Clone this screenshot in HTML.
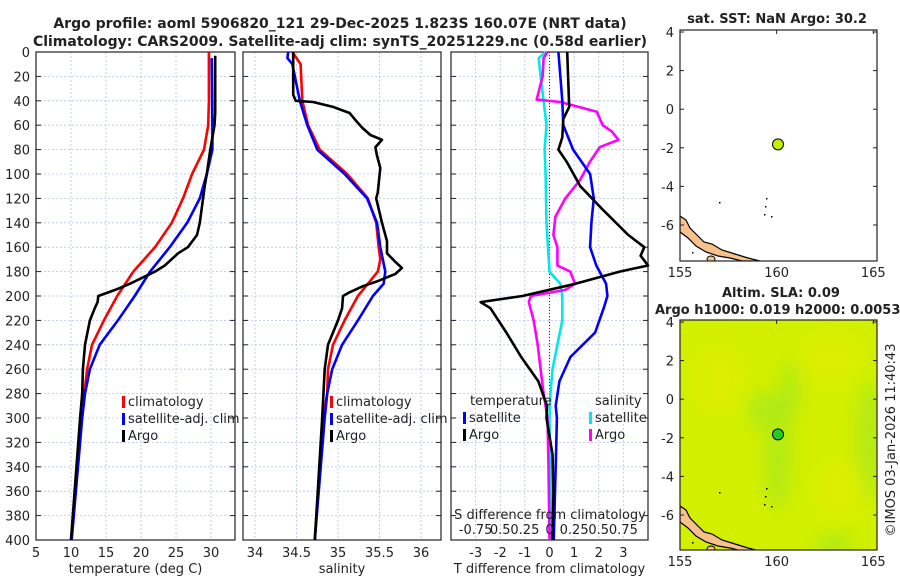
<!DOCTYPE html>
<html><head><meta charset="utf-8"><style>
body{margin:0;background:#fff;width:900px;height:580px;overflow:hidden}
svg text{font-family:"DejaVu Sans","Liberation Sans",sans-serif;fill:#222}
</style></head><body>
<svg id="c" width="900" height="580" xmlns="http://www.w3.org/2000/svg">
<defs>
<filter id="blur"><feGaussianBlur stdDeviation="8"/></filter>
<clipPath id="m2clip"><rect x="680" y="320" width="197" height="230"/></clipPath>
<clipPath id="m1clip"><rect x="680" y="30" width="197" height="231"/></clipPath>
</defs>
<text x="340" y="28" text-anchor="middle" font-size="14" font-weight="bold">Argo profile: aoml 5906820_121 29-Dec-2025 1.823S 160.07E (NRT data)</text>
<text x="340" y="46" text-anchor="middle" font-size="14" font-weight="bold">Climatology: CARS2009. Satellite-adj clim: synTS_20251229.nc (0.58d earlier)</text>
<g id="g"></g>
</svg>
<script>
// ---------- data ----------
const depthTicks=[0,20,40,60,80,100,120,140,160,180,200,220,240,260,280,300,320,340,360,380,400];
const tempTicks=[5,10,15,20,25,30];
const salTicks=[34,34.5,35,35.5,36];
const tdiffTicks=[-3,-2,-1,0,1,2,3];
const sdiffTickLabels=["-0.75","0.5","0.25","0","0.25","0.5","0.75"];
const sdiffTickVals=[-0.75,-0.5,-0.25,0,0.25,0.5,0.75];
// temperature profiles
const tClimDepth=[0,40,60,80,100,120,140,160,180,200,220,240,260,280,300,400];
const tClimVal=[29.7,29.7,29.6,29.0,27.3,26.0,24.4,22.0,18.9,16.6,14.7,13.0,12.3,11.9,11.4,10.0];
const tSatDepth=[5,60,80,100,120,140,160,180,200,220,240,260,280,300,400];
const tSatVal=[30.1,30.2,30.2,29.4,28.4,26.6,24.1,21.3,19.1,16.7,14.1,12.7,12.0,11.6,10.1];
const tArgoDepth=[3,50,60,80,100,110,140,150,160,165,175,180,190,195,200,205,210,220,240,260,280,300,400];
const tArgoVal=[30.6,30.6,30.5,29.9,29.4,29.1,28.4,28.0,26.7,25.3,23.4,22.0,18.4,16.3,13.9,13.8,13.4,12.7,12.0,11.7,11.6,11.3,10.0];
// salinity profiles
const sClimDepth=[0,10,40,60,80,100,120,140,160,170,180,190,200,220,240,260,280,300,400];
const sClimVal=[34.45,34.55,34.57,34.64,34.78,35.11,35.36,35.46,35.49,35.51,35.48,35.36,35.24,35.08,34.94,34.88,34.87,34.82,34.72];
const sSatDepth=[0,5,10,40,60,80,100,120,140,160,180,190,200,220,240,260,280,300,400];
const sSatVal=[34.40,34.39,34.45,34.54,34.63,34.75,35.08,35.35,35.47,35.51,35.57,35.55,35.42,35.24,35.05,34.93,34.87,34.84,34.72];
const sArgoDepth=[0,35,40,41,45,50,55,62,68,72,78,85,95,115,120,140,155,165,172,177,182,188,192,197,200,210,220,240,260,300,400];
const sArgoVal=[34.46,34.46,34.49,34.70,34.94,35.14,35.20,35.29,35.39,35.53,35.45,35.47,35.51,35.48,35.46,35.53,35.59,35.59,35.69,35.77,35.69,35.47,35.30,35.14,35.06,35.05,35.00,34.88,34.84,34.81,34.72];
// difference panel
const dTSatDepth=[0,40,60,80,100,120,140,160,175,190,200,210,230,250,270,290,300,340,400];
const dTSatVal=[0.36,0.52,0.56,0.96,1.65,1.8,1.7,1.65,1.9,2.3,2.35,2.2,1.85,0.85,0.4,0.25,0.3,0.25,0.17];
const dTArgoDepth=[0,45,55,70,80,90,110,130,150,160,167,175,180,190,200,205,210,230,250,270,290,300,330,360,400];
const dTArgoVal=[0.72,0.8,0.56,0.52,0.36,0.7,1.25,2.2,3.2,3.85,3.7,4.0,2.85,1.05,-1.1,-2.8,-2.4,-1.75,-1.15,-0.45,-0.1,-0.12,0.12,0.16,0.12];
const dSSatDepth=[0,5,20,40,60,80,100,140,180,190,200,220,240,260,280,300,400];
const dSSatVal=[-0.04,-0.11,-0.09,-0.06,-0.03,-0.05,-0.04,-0.03,0,0.11,0.13,0.13,0.08,0.03,0.01,0,0.02];
const dSArgoDepth=[0,5,20,39,41,49,60,65,72,78,90,105,120,135,150,160,175,180,190,195,200,205,220,240,260,280,300,340,400];
const dSArgoVal=[-0.02,-0.06,-0.07,-0.13,0.11,0.48,0.54,0.63,0.7,0.51,0.41,0.31,0.16,0.06,0.04,0.08,0.08,0.21,0.26,0.16,-0.19,-0.21,-0.16,-0.12,-0.09,-0.06,-0.02,-0.01,0];
// maps
const lonTicks=[155,160,165];
const latTicks=[4,2,0,-2,-4,-6];
const floatLon=[160.07], floatLat=[-1.823];

// ---------- helpers ----------
const NS="http://www.w3.org/2000/svg";
const G=document.getElementById('g');
function el(t,a,p){const e=document.createElementNS(NS,t);for(const k in a)e.setAttribute(k,a[k]);(p||G).appendChild(e);return e;}
const Y0=52,Y1=540;
function yD(d){return Y0+(Y1-Y0)*d/400;}
function panel(x0,x1,vmin,vmax,ticks,labels,name,xlabel){
  const sx=v=>x0+(x1-x0)*(v-vmin)/(vmax-vmin);
  const grp=el('g',{});
  
  
  ticks.forEach(t=>{const l=el('line',{x1:sx(t),x2:sx(t),y1:Y0,y2:Y1,stroke:'#b8c4e8','stroke-width':0.8,'stroke-dasharray':'2,2'},grp);
    });
  depthTicks.forEach(d=>{const l=el('line',{x1:x0,x2:x1,y1:yD(d),y2:yD(d),stroke:'#b8c4e8','stroke-width':0.8,'stroke-dasharray':'2,2'},grp);
    
    el('line',{x1:x0,x2:x0+5,y1:yD(d),y2:yD(d),stroke:'#222'},grp);el('line',{x1:x1-5,x2:x1,y1:yD(d),y2:yD(d),stroke:'#222'},grp);});
  const r=el('rect',{x:x0,y:Y0,width:x1-x0,height:Y1-Y0,fill:'none',stroke:'#222','stroke-width':1.2},grp);
  
  ticks.forEach((t,i)=>{const tx=el('text',{x:sx(t),y:557,'text-anchor':'middle','font-size':13},grp);tx.textContent=labels[i];
    });
  const xl=el('text',{x:(x0+x1)/2,y:573,'text-anchor':'middle','font-size':13},grp);xl.textContent=xlabel;
  
  return sx;
}
function line(sx,ds,vs,color,name,w){
  const pts=ds.map((d,i)=>sx(vs[i]).toFixed(1)+','+yD(d).toFixed(1)).join(' ');
  const p=el('polyline',{points:pts,fill:'none',stroke:color,'stroke-width':w||2.6,'stroke-linejoin':'round'});
  
  
}
function legend(x,y,color,label,name){
  const r=el('rect',{x:x,y:y-10,width:3,height:12,fill:color});
  
  const t=el('text',{x:x+6,y:y,'font-size':13});t.textContent=label;
  
}
depthTicks.forEach(d=>{const t=el('text',{x:30,y:yD(d)+5,'text-anchor':'end','font-size':13});t.textContent=d;
  });

const sxT=panel(36,235,5,5+199/7,tempTicks,tempTicks.map(String),'temperature-panel','temperature (deg C)');
line(sxT,tClimDepth,tClimVal,'#ff0000','temp-climatology-line');
line(sxT,tSatDepth,tSatVal,'#0000ff','temp-satellite-line');
line(sxT,tArgoDepth,tArgoVal,'#000','temp-argo-line');
legend(122,406,'#ff0000','climatology','legend-climatology');
legend(122,423,'#0000ff','satellite-adj. clim','legend-satellite');
legend(122,440,'#000','Argo','legend-argo');

const sxS=panel(243,441,34+(243-255)/83,34+(441-255)/83,salTicks,salTicks.map(String),'salinity-panel','salinity');
line(sxS,sClimDepth,sClimVal,'#ff0000','sal-climatology-line');
line(sxS,sSatDepth,sSatVal,'#0000ff','sal-satellite-line');
line(sxS,sArgoDepth,sArgoVal,'#000','sal-argo-line');
legend(330,406,'#ff0000','climatology','legend-sal-climatology');
legend(330,423,'#0000ff','satellite-adj. clim','legend-sal-satellite');
legend(330,440,'#000','Argo','legend-sal-argo');

const sxD=panel(451,648,-4,4,tdiffTicks,tdiffTicks.map(String),'difference-panel','T difference from climatology');
const zl=el('line',{x1:sxD(0),x2:sxD(0),y1:Y0,y2:Y1,stroke:'#333','stroke-width':1,'stroke-dasharray':'1,2'});

const sxDS=v=>sxD(v*4);
line(sxDS,dSSatDepth,dSSatVal,'#00e8e8','sal-diff-satellite-line');
line(sxDS,dSArgoDepth,dSArgoVal,'#ff00ff','sal-diff-argo-line');
line(sxD,dTSatDepth,dTSatVal,'#0000ff','temp-diff-satellite-line');
line(sxD,dTArgoDepth,dTArgoVal,'#000','temp-diff-argo-line');
const tl1=el('text',{x:470,y:405,'font-size':13});tl1.textContent='temperature';

const tl2=el('text',{x:595,y:405,'font-size':13});tl2.textContent='salinity';

legend(463,422,'#0000ff','satellite','legend-diff-t-satellite');
legend(463,439,'#000','Argo','legend-diff-t-argo');
legend(589,422,'#00e8e8','satellite','legend-diff-s-satellite');
legend(589,439,'#ff00ff','Argo','legend-diff-s-argo');
const st=el('text',{x:550,y:519,'text-anchor':'middle','font-size':13});st.textContent='S difference from climatology';

sdiffTickVals.forEach((v,i)=>{const t=el('text',{x:sxDS(v),y:534,'text-anchor':'middle','font-size':13});t.textContent=sdiffTickLabels[i];
  });

function map(y0,name,bg,dotColor,clip){
  const x0=680,w=197,h=(y0<100?231:230);
  const lx=v=>x0+(v-155)*19.33, ly=v=>y0+2+(4-v)*19.3;
  const g=el('g',{});
  
  const bgR=el('rect',{x:x0,y:y0,width:w,height:h,fill:bg},g);
  
  if(bg!=='#fff'){
    const gg=el('g',{'clip-path':'url(#'+clip+')',filter:'url(#blur)'},g);
    [[778,y0+130,14,60],[760,y0+90,12,20],[790,y0+70,10,30],[870,y0+120,14,60],[835,y0+225,20,12]].forEach(e=>el('ellipse',{cx:e[0],cy:e[1],rx:e[2],ry:e[3],fill:'#a8e81a',opacity:0.7},gg));
    [[720,y0+60,25,35],[830,y0+40,30,25],[840,y0+170,25,30]].forEach(e=>el('ellipse',{cx:e[0],cy:e[1],rx:e[2],ry:e[3],fill:'#e4ee00',opacity:0.6},gg));
  }
  const land=el('path',{d:`M680 ${y0+186} L686 ${y0+190} L690 ${y0+198} L697 ${y0+205} L704 ${y0+212} L712 ${y0+214} L722 ${y0+220} L735 ${y0+224} L748 ${y0+228} L760 ${y0+231} L742 ${y0+231} L730 ${y0+228} L718 ${y0+226} L706 ${y0+222} L696 ${y0+216} L688 ${y0+208} L680 ${y0+202} Z`,fill:'#f8c08a',stroke:'#000','stroke-width':1.2,'clip-path':'url(#'+clip+')'},g);
  
  const isl=el('ellipse',{cx:711,cy:y0+229,rx:4,ry:3,fill:'#f8c08a',stroke:'#000','stroke-width':1,'clip-path':'url(#'+clip+')'},g);
  
  el('rect',{x:x0,y:y0,width:w,height:h,fill:'none',stroke:'#222','stroke-width':1.2},g);
  [[719,y0+172],[766,y0+168],[765,y0+176],[764,y0+184],[771,y0+186],[692,y0+222]].forEach(p=>el('rect',{x:p[0],y:p[1],width:1.5,height:1.5,fill:'#000'},g));
  lonTicks.forEach(v=>{const t=el('text',{x:lx(v),y:y0+h+16,'text-anchor':'middle','font-size':13},g);t.textContent=v;
    
    el('line',{x1:lx(v),x2:lx(v),y1:y0,y2:y0+4,stroke:'#222'},g);});
  latTicks.forEach(v=>{const t=el('text',{x:674,y:ly(v)+5,'text-anchor':'end','font-size':13},g);t.textContent=v;
    
    el('line',{x1:x0,x2:x0+4,y1:ly(v),y2:ly(v),stroke:'#222'},g);el('line',{x1:x0+w-4,x2:x0+w,y1:ly(v),y2:ly(v),stroke:'#222'},g);});
  floatLon.forEach((lo,i)=>{const c=el('circle',{cx:lx(lo),cy:ly(floatLat[i]),r:5.5,fill:dotColor,stroke:'#000','stroke-width':1},g);
    });
}
map(30,'sst-map','#fff','#c0f000','m1clip');
map(320,'sla-map','#d2ef00','#22cc22','m2clip');
[['sat. SST: NaN Argo: 30.2',777,23,'sst-map-title'],['Altim. SLA: 0.09',722,297,'sla-map-title'],['Argo h1000: 0.019 h2000: 0.0053',655,314,'sla-map-subtitle']].forEach(a=>{
  const t=el('text',{x:a[1],y:a[2],'font-size':13,'font-weight':'bold','text-anchor':a[3]==='sst-map-title'?'middle':'start'});t.textContent=a[0];
  });
const cr=el('text',{x:0,y:0,'font-size':13,'text-anchor':'middle',transform:'translate(895,440) rotate(-90)'});cr.textContent='©IMOS 03-Jan-2026 11:40:43';

</script>
</body></html>
